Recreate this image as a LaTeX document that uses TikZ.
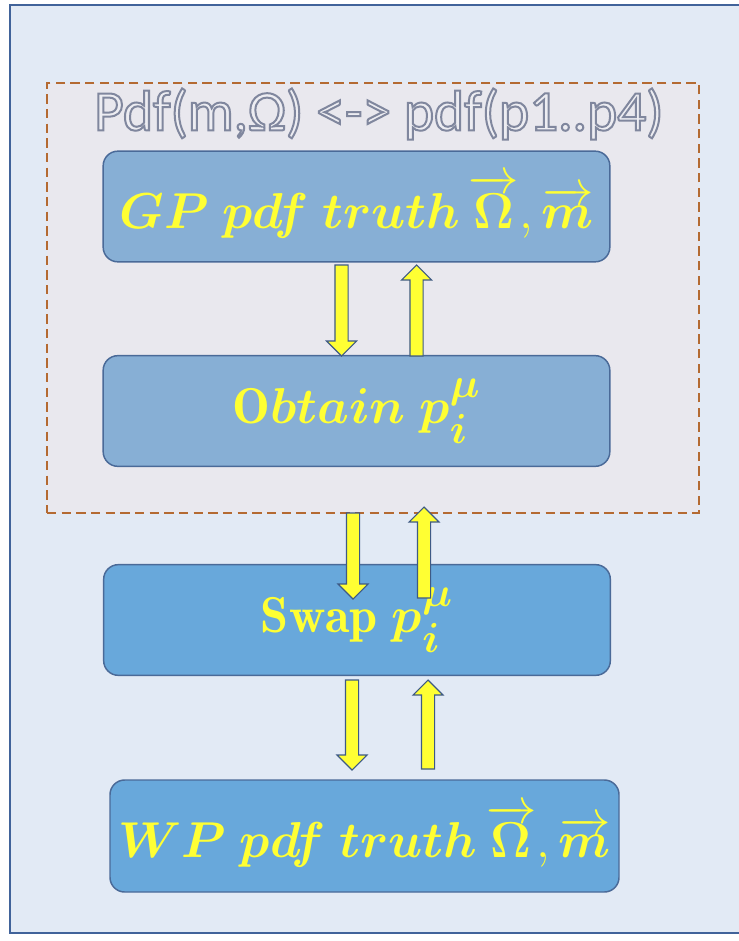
\documentclass[tikz,border=0pt]{standalone}
\usepackage{amsmath,bm}
\usepackage{graphicx}
\usepackage{fontspec}
\newfontfamily\carlito{Carlito}
\usetikzlibrary{calc}
\definecolor{bgblue}{HTML}{E2EAF5}
\definecolor{frameblue}{HTML}{41639A}
\definecolor{dashfill}{HTML}{E9E8EE}
\definecolor{dashbrown}{HTML}{B46A32}
\definecolor{boxA}{HTML}{87AFD5}
\definecolor{boxB}{HTML}{68A8DB}
\definecolor{boxline}{HTML}{4A6A98}
\definecolor{txtyellow}{HTML}{FFFF33}
\definecolor{arrline}{HTML}{3E5A85}
\newcommand\outlinedtext[1]{\special{pdf:literal direct 2 Tr 1.5 w 0.50 0.53 0.62 RG 0.93 0.93 0.95 rg}#1\special{pdf:literal direct 0 Tr}}
\newcommand\bigmath[1]{\scalebox{1.52}{$#1$}}
\tikzset{
  stage/.style={draw=boxline, line width=1.1pt, rounded corners=11pt,
    minimum width=380pt, minimum height=83pt, inner sep=0pt,
    text=txtyellow, font=\fontsize{24.88}{30}\selectfont},
  barrow/.style={fill=txtyellow, draw=arrline, line width=0.8pt, line join=miter},
  groupbox/.style={draw=dashbrown, line width=1.2pt, dash pattern=on 7pt off 4pt,
    fill=dashfill, minimum width=489pt, minimum height=322.5pt, inner sep=0pt}
}
\newcommand\blockarr[2]{%
  \draw[barrow] let \p1=(#1), \p2=(#2),
    \n2={\y2-ifthenelse(\y2>\y1,11.25,-11.25)} in
    (\x1-4.9pt,\y1) -- (\x1-4.9pt,\n2) -- (\x1-11.25pt,\n2) -- (\x1,\y2)
    -- (\x1+11.25pt,\n2) -- (\x1+4.9pt,\n2) -- (\x1+4.9pt,\y1) -- cycle;}
\begin{document}
\begin{tikzpicture}[x=0.75pt,y=-0.75pt]
\useasboundingbox (0,0) rectangle (738,941);
\fill[white] (0,0) rectangle (738,941);
\draw[frameblue, line width=2.2pt, fill=bgblue] (10,5) rectangle (760,933);
\node[groupbox] (group) at (373,298) {};
\node[stage, fill=boxA] (gp) at (356.5,206.5)
  {\bigmath{\bm{GP}\;\bm{pdf}\;\bm{truth}\,\overrightarrow{\bm{\Omega}},\overrightarrow{\bm{m}}}};
\node[stage, fill=boxA] (obtain) at (356.5,411)
  {\bigmath{\bm{\mathrm{O}btain}\;\bm{p_i^{\mu}}}};
\node[stage, fill=boxB] (swap) at (357,620)
  {\bigmath{\mathbf{Swap}\;\bm{p_i^{\mu}}}};
\node[stage, fill=boxB, minimum width=381.75pt, minimum height=84pt] (wp) at (364.5,836)
  {\bigmath{\bm{WP}\;\bm{pdf}\;\bm{truth}\,\overrightarrow{\bm{\Omega}},\overrightarrow{\bm{m}}}};
\coordinate (a1s) at (341.5,265); \coordinate (a1e) at (341.5,356);
\coordinate (a2s) at (416.5,356); \coordinate (a2e) at (416.5,265);
\coordinate (a3s) at (353,513);   \coordinate (a3e) at (353,599);
\coordinate (a4s) at (424,598);   \coordinate (a4e) at (424,507);
\coordinate (a5s) at (352,680);   \coordinate (a5e) at (352,770);
\coordinate (a6s) at (428,769);   \coordinate (a6e) at (428,680);
\blockarr{a1s}{a1e}
\blockarr{a2s}{a2e}
\blockarr{a3s}{a3e}
\blockarr{a4s}{a4e}
\blockarr{a5s}{a5e}
\blockarr{a6s}{a6e}
\node[inner sep=0pt, font=\carlito\fontsize{43}{48}\selectfont] (title) at (379,114)
  {\outlinedtext{Pdf(m,Ω) <-> pdf(p1..p4)}};
\end{tikzpicture}
\end{document}
